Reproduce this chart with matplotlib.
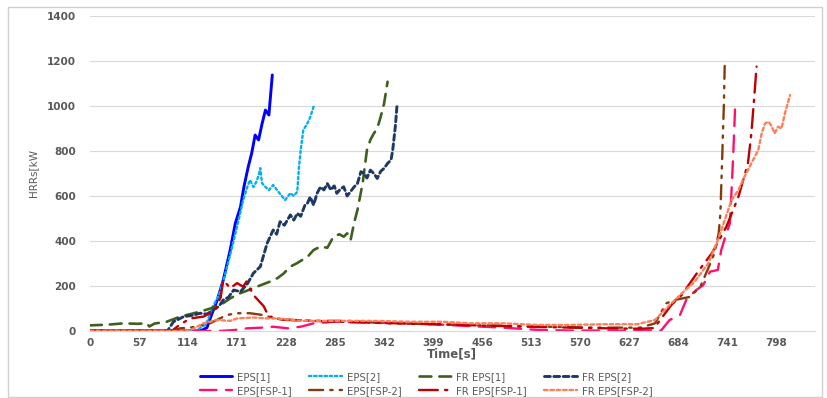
import matplotlib
matplotlib.use("Agg")
import matplotlib.pyplot as plt
from matplotlib.patches import Rectangle

# ---------------- data ----------------
eps1_t = [0, 60, 117, 130, 136, 142, 148, 155, 163, 169, 175, 179, 184, 188, 192, 196, 200, 204, 208, 212]
eps1_v = [0, 0, 0, 3, 15, 79, 138, 227, 360, 479, 552, 641, 730, 790, 871, 849, 920, 982, 960, 1138]

eps2_t = [0, 100, 125, 135, 143, 150, 157, 165, 172, 178, 183, 186, 190, 193, 196, 198, 200, 204, 208,
          213, 219, 223, 227, 233, 237, 241, 243, 245, 248, 253, 256, 260]
eps2_v = [0, 0, 5, 30, 110, 160, 250, 370, 480, 580, 641, 671, 640, 660, 690, 724, 657, 640, 626,
          649, 619, 600, 582, 613, 600, 619, 730, 804, 893, 924, 950, 997]

fr1_t = [0, 20, 39, 55, 66, 69, 75, 89, 105, 128, 140, 155, 163, 174, 183, 194, 209, 218, 225, 233,
         240, 253, 260, 268, 276, 283, 290, 295, 299, 303, 307, 311, 317, 322, 326, 330, 334, 338, 342, 346]
fr1_v = [25, 28, 34, 32, 34, 20, 33, 41, 64, 86, 100, 124, 145, 167, 180, 197, 219, 235, 255, 286,
         300, 330, 360, 375, 370, 419, 430, 419, 434, 404, 479, 538, 656, 804, 849, 878, 900, 952, 1012, 1108]

fr2_t = [0, 90, 97, 109, 120, 128, 136, 143, 150, 155, 161, 167, 175, 183, 190, 198, 206, 213, 217,
         221, 226, 233, 237, 241, 245, 250, 253, 256, 260, 264, 268, 272, 276, 280, 284, 287, 291, 295,
         299, 303, 307, 311, 315, 319, 322, 326, 330, 334, 338, 342, 346, 350, 352, 355, 357]
fr2_v = [0, 0, 41, 64, 70, 79, 75, 93, 110, 138, 150, 182, 175, 210, 257, 286, 390, 449, 430,
         486, 470, 516, 493, 523, 510, 560, 569, 596, 560, 612, 640, 627, 655, 627, 645, 612, 630, 641,
         600, 620, 640, 656, 708, 700, 680, 715, 700, 678, 710, 723, 745, 760, 804, 908, 1004]

fsp1_t = [0, 150, 167, 183, 200, 213, 230, 245, 260, 283, 320, 360, 400, 440, 480, 520, 560, 600, 640,
          664, 674, 686, 694, 705, 713, 721, 730, 734, 740, 744, 746, 748, 750]
fsp1_v = [0, 0, 4, 12, 15, 19, 12, 19, 34, 41, 38, 35, 30, 22, 15, 5, 2, 2, 2,
          2, 49, 71, 145, 182, 204, 264, 271, 360, 434, 478, 627, 790, 985]

fsp2_t = [0, 95, 105, 117, 140, 159, 171, 186, 201, 215, 230, 260, 300, 340, 400, 460, 520, 580, 640,
          657, 670, 680, 698, 710, 718, 726, 731, 733, 735, 737, 738]
fsp2_v = [0, 0, 12, 15, 35, 71, 79, 79, 71, 56, 50, 45, 45, 35, 30, 25, 20, 15, 15,
          34, 123, 138, 152, 200, 271, 345, 434, 523, 760, 1000, 1178]

frfsp1_t = [0, 95, 105, 117, 132, 145, 152, 155, 163, 171, 178, 182, 190, 202, 206, 213, 225, 260, 300,
            350, 400, 450, 500, 560, 600, 640, 656, 676, 688, 707, 723, 740, 754, 765, 769, 773, 775]
frfsp1_v = [0, 0, 30, 56, 64, 90, 150, 227, 190, 213, 197, 220, 160, 110, 79, 56, 50, 45, 40,
            35, 30, 25, 20, 15, 12, 10, 13, 116, 160, 264, 345, 464, 597, 745, 878, 1071, 1175]

frfsp2_t = [0, 115, 132, 147, 163, 171, 190, 206, 217, 245, 283, 330, 373, 411, 442, 481, 520, 558, 597,
            636, 657, 672, 688, 703, 719, 730, 738, 746, 754, 761, 773, 777, 781, 785, 789, 793, 796,
            800, 804, 808, 814]
frfsp2_v = [0, 0, 34, 49, 45, 56, 60, 56, 56, 45, 45, 45, 41, 41, 34, 34, 27, 27, 30,
            30, 49, 108, 167, 219, 301, 404, 493, 582, 627, 686, 775, 804, 878, 923, 930, 908, 878,
            908, 900, 967, 1049]

series_names = ["EPS[1]", "EPS[2]", "FR EPS[1]", "FR EPS[2]",
                "EPS[FSP-1]", "EPS[FSP-2]", "FR EPS[FSP-1]", "FR EPS[FSP-2]"]
xticks = [0, 57, 114, 171, 228, 285, 342, 399, 456, 513, 570, 627, 684, 741, 798]
yticks = [0, 200, 400, 600, 800, 1000, 1200, 1400]

# ---------------- figure ----------------
W, H = 827, 398
fig = plt.figure(figsize=(W / 100, H / 100), dpi=100)
fig.patches.append(Rectangle((8 / W, 1 / H), 814 / W, (H - 8) / H, transform=fig.transFigure,
                             fill=False, edgecolor="#D0D0D0", lw=1.0))
ax = fig.add_axes([90 / W, 1 - 331 / H, (815 - 90) / W, (331 - 16) / H])

styles = [
    dict(color="#0000FF", lw=2.1, ls="-"),
    dict(color="#00B0F0", lw=1.7, ls=(0, (1, 1.2))),
    dict(color="#3F5F1F", lw=1.9, ls=(0, (4.5, 3))),
    dict(color="#1F3864", lw=2.1, ls=(0, (2, 1.2))),
    dict(color="#FF0F6F", lw=1.7, ls=(0, (7, 4))),
    dict(color="#843C0C", lw=1.7, ls=(0, (6, 3, 1, 3, 1, 3))),
    dict(color="#C00000", lw=1.7, ls=(0, (8, 3, 1, 3))),
    dict(color="#FF7F5A", lw=1.7, ls=(0, (1.5, 1.2))),
]
data = [(eps1_t, eps1_v), (eps2_t, eps2_v), (fr1_t, fr1_v), (fr2_t, fr2_v),
        (fsp1_t, fsp1_v), (fsp2_t, fsp2_v), (frfsp1_t, frfsp1_v), (frfsp2_t, frfsp2_v)]

handles = []
for (t, v), name, st in zip(data, series_names, styles):
    h, = ax.plot(t, v, label=name, solid_capstyle="round", dash_capstyle="round", **st)
    handles.append(h)

ax.set_xlim(0, 843)
ax.set_ylim(0, 1400)
ax.set_xticks(xticks)
ax.set_yticks(yticks)
ax.tick_params(length=0, labelsize=7.5, labelcolor="#595959", pad=5)
for lab in ax.get_xticklabels() + ax.get_yticklabels():
    lab.set_fontweight("bold")
ax.tick_params(axis="y", pad=10)
ax.grid(axis="y", color="#D9D9D9", lw=0.8)
ax.set_axisbelow(True)
for s in ["top", "right", "left"]:
    ax.spines[s].set_visible(False)
ax.spines["bottom"].set_color("#D9D9D9")

fig.text(452 / W, 1 - 354 / H, "Time[s]", ha="center", va="center", fontsize=8.5,
         fontweight="bold", color="#595959")
fig.text(33 / W, 1 - 173 / H, "HRRs[kW", ha="center", va="center", rotation=90,
         fontsize=7.5, color="#595959")

order = [0, 4, 1, 5, 2, 6, 3, 7]
leg = fig.legend([handles[i] for i in order], [series_names[i] for i in order],
                 loc="center", bbox_to_anchor=(426 / W, 1 - 384 / H), ncol=4, frameon=False,
                 fontsize=7.3, handlelength=3.2, handletextpad=0.5, columnspacing=1.7,
                 labelspacing=0.4, borderpad=0)
for txt in leg.get_texts():
    txt.set_color("#595959")

fig.savefig("out.png", dpi=100)
